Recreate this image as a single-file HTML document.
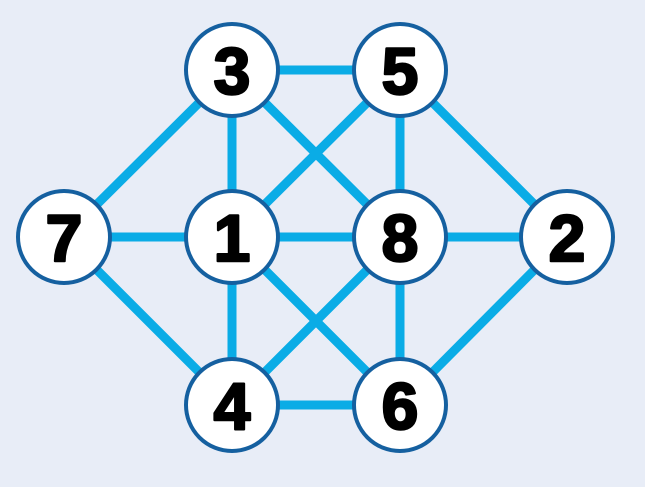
<!DOCTYPE html>
<html><head><style>
html,body{margin:0;padding:0;background:#e8edf7;}
svg{display:block}
text{font-family:"Liberation Sans",sans-serif;font-weight:bold;font-size:66px;fill:#000;stroke:#000;stroke-width:2.5;stroke-linejoin:round;text-anchor:middle}
</style></head><body>
<svg width="645" height="487" viewBox="0 0 645 487">
<rect width="645" height="487" fill="#e8edf7"/>
<g stroke="#0aace6" stroke-width="9" stroke-linecap="butt">
<line x1="232" y1="70" x2="400" y2="70"/>
<line x1="232" y1="70" x2="232" y2="237"/>
<line x1="232" y1="70" x2="400" y2="237"/>
<line x1="232" y1="70" x2="64" y2="237"/>
<line x1="400" y1="70" x2="232" y2="237"/>
<line x1="400" y1="70" x2="400" y2="237"/>
<line x1="400" y1="70" x2="567" y2="237"/>
<line x1="64" y1="237" x2="232" y2="237"/>
<line x1="64" y1="237" x2="232" y2="405"/>
<line x1="232" y1="237" x2="400" y2="237"/>
<line x1="400" y1="237" x2="567" y2="237"/>
<line x1="232" y1="237" x2="232" y2="405"/>
<line x1="232" y1="237" x2="400" y2="405"/>
<line x1="400" y1="237" x2="232" y2="405"/>
<line x1="400" y1="237" x2="400" y2="405"/>
<line x1="232" y1="405" x2="400" y2="405"/>
<line x1="400" y1="405" x2="567" y2="237"/>
</g>
<g fill="#fff" stroke="#1560a0" stroke-width="4">
<circle cx="232" cy="70" r="46"/>
<circle cx="400" cy="70" r="46"/>
<circle cx="64" cy="237" r="46"/>
<circle cx="232" cy="237" r="46"/>
<circle cx="400" cy="237" r="46"/>
<circle cx="567" cy="237" r="46"/>
<circle cx="232" cy="405" r="46"/>
<circle cx="400" cy="405" r="46"/>
</g>
<text x="232" y="94">3</text>
<text x="400" y="94">5</text>
<text x="64" y="261">7</text>
<text x="232" y="261">1</text>
<text x="400" y="261">8</text>
<text x="567" y="261">2</text>
<text x="232" y="429">4</text>
<text x="400" y="429">6</text>
</svg>
</body></html>
